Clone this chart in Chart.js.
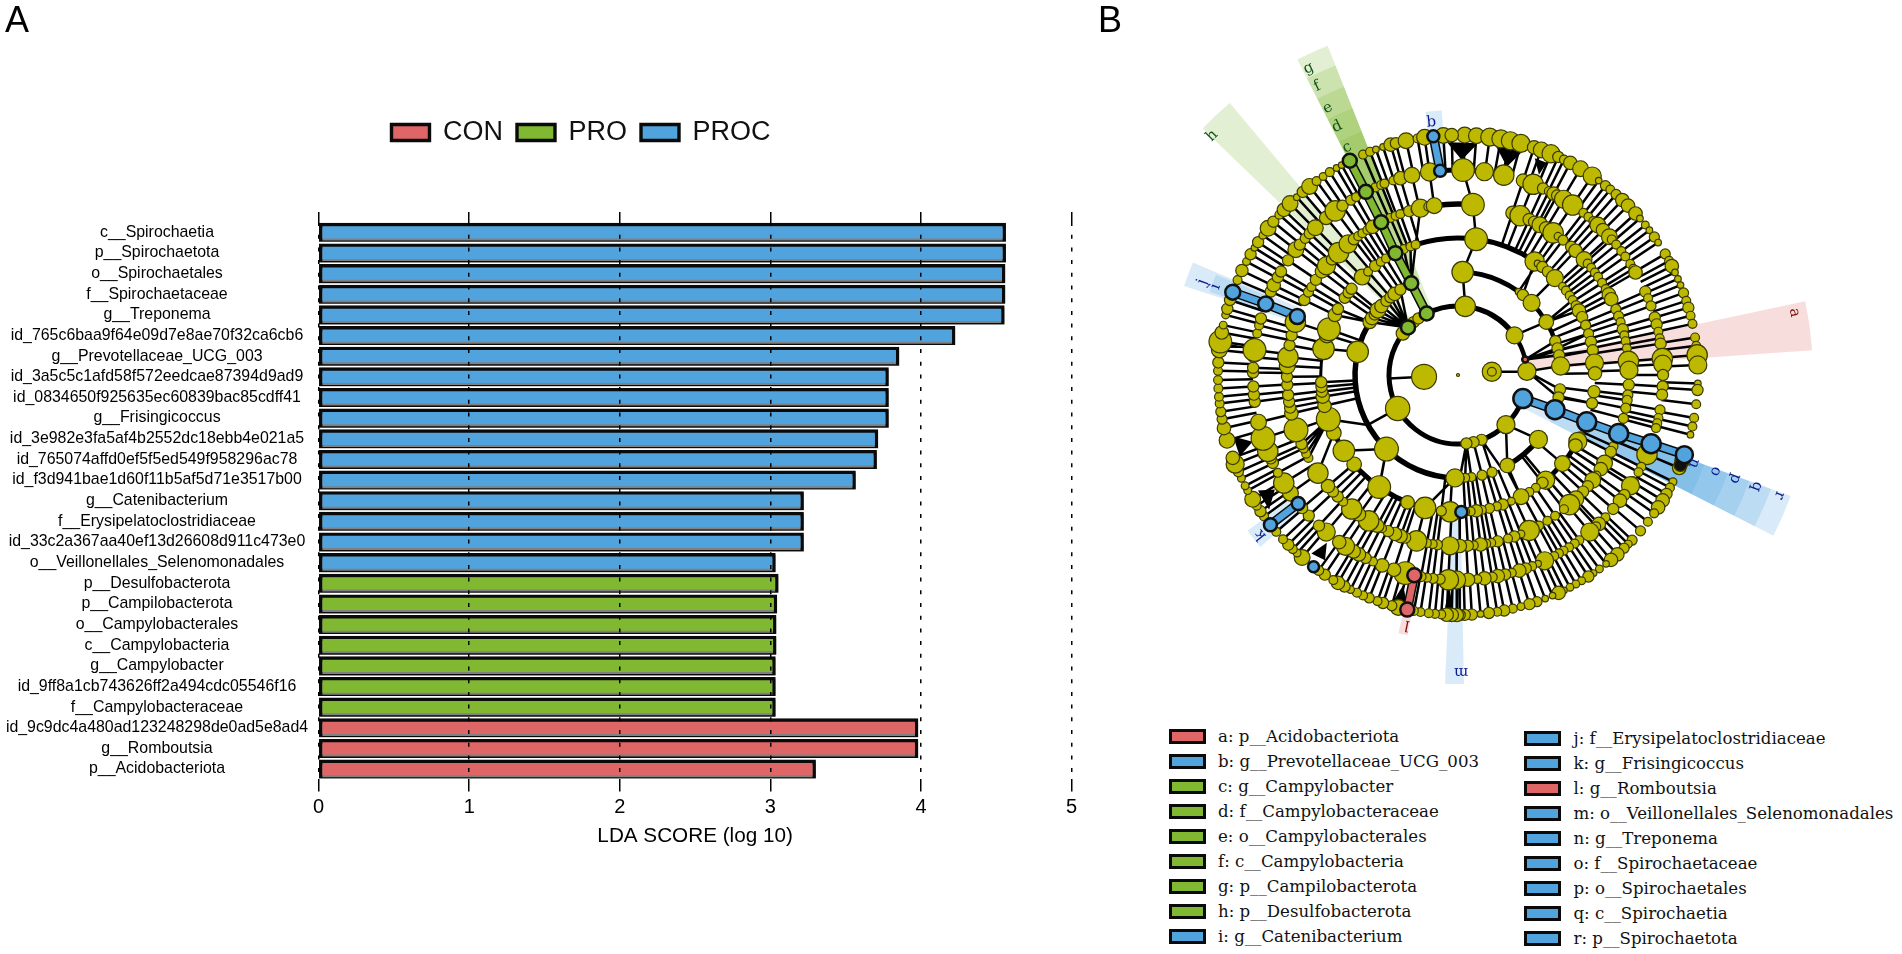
<!DOCTYPE html>
<html>
<head>
<meta charset="utf-8">
<script src="https://cdn.jsdelivr.net/npm/chart.js@4/dist/chart.umd.min.js"></script>
<style>
  body { margin: 0; background: #fff; width: 1902px; height: 954px; overflow: hidden; position: relative; }
  canvas { position: absolute; }
  .panel { position: absolute; font: 36px "Liberation Sans", sans-serif; line-height: 40px; color: #000; }
  .key { position: absolute; font: 16.6px "DejaVu Serif", serif; line-height: 20px; color: #111; white-space: nowrap; }
  .key i { position: absolute; width: 31px; height: 9px; border: 3.5px solid #0a0a0a; }
</style>
</head>
<body>
<canvas id="bars" width="1162" height="954" style="left:0;top:0"></canvas>
<canvas id="clade" width="802" height="720" style="left:1100px;top:0"></canvas>
<div class="panel" style="left:5px;top:0">A</div>
<div class="panel" style="left:1098px;top:0">B</div>
<script>
const RED = '#df6666'
const GREEN = '#80b831'
const BLUE = '#51a3de'
const OLIVE = '#bdb900'

// panel A
const procTaxa = ['c__Spirochaetia', 'p__Spirochaetota', 'o__Spirochaetales', 'f__Spirochaetaceae', 'g__Treponema',
  'id_765c6baa9f64e09d7e8ae70f32ca6cb6', 'g__Prevotellaceae_UCG_003', 'id_3a5c5c1afd58f572eedcae87394d9ad9',
  'id_0834650f925635ec60839bac85cdff41', 'g__Frisingicoccus', 'id_3e982e3fa5af4b2552dc18ebb4e021a5',
  'id_765074affd0ef5f5ed549f958296ac78', 'id_f3d941bae1d60f11b5af5d71e3517b00', 'g__Catenibacterium',
  'f__Erysipelatoclostridiaceae', 'id_33c2a367aa40ef13d26608d911c473e0', 'o__Veillonellales_Selenomonadales']
const procScores = [4.562, 4.562, 4.558, 4.558, 4.553, 4.226, 3.854, 3.784, 3.784, 3.784, 3.714, 3.705, 3.565, 3.22, 3.22, 3.22, 3.033]
const proTaxa = ['p__Desulfobacterota', 'p__Campilobacterota', 'o__Campylobacterales', 'c__Campylobacteria',
  'g__Campylobacter', 'id_9ff8a1cb743626ff2a494cdc05546f16', 'f__Campylobacteraceae']
const proScores = [3.052, 3.043, 3.038, 3.038, 3.033, 3.033, 3.033]
const conTaxa = ['id_9c9dc4a480ad123248298de0ad5e8ad4', 'g__Romboutsia', 'p__Acidobacteriota']
const conScores = [3.98, 3.98, 3.30]

// panel B, all angles in degrees clockwise from north, ring 0 is the centre
const ringRadii = [0, 34, 69, 103, 137, 171, 205, 240]
// [angle, node radius, parent angle (-1 = no link, missing = straight in)]
const ring1 = [[267, 10], [84.5, 7.5], [84.5, 3]]
const ring2 = [[6, 8], [55, 6.5], [87, 7], [136, 7], [160, 4], [167, 4], [173, 4], [241, 9.7], [307, 5], [320, 4], [325, 4]]
const ring3 = [[2.6, 8.5], [36, 2], [39, 4], [45.6, 6.5], [59, 5.5], [70.8, 4], [75, 4], [79, 4], [85, 7], [98, 4], [102.6, 4],
  [128.7, 7], [151.4, 5.5], [160.7, 3.5], [166.5, 3.5], [172.5, 3], [176, 3], [179, 3], [181.7, 7], [224, 9.5], [283, 8.5],
  [301, 5], [303.5, 5], [306, 4], [309, 6], [312, 5], [316, 4], [319, 4], [322, 5], [326, 4]]
const ring4 = [[7.6, 9, 2.6], [34, 7.5, 39], [35.5, 2, 36], [38, 4, -1], [41, 4, -1], [45, 6.5], [49.7, 2.5, -1], [52, 3, -1], [54.6, 3, -1], [56.8, 3, 59], [59.6, 3.5], [62, 5, 59], [65, 4], [68.7, 3.5],
  [72.4, 3.5], [76, 4], [79.6, 4], [85, 7], [89.3, 5], [97, 4.5], [101.9, 4], [116.6, 3, -1], [119, 7, -1], [121, 5, -1], [130.3, 6], [140.2, 7], [141.9, 4], [145.4, 3, -1], [148.6, 3, -1],
  [152.6, 6], [157.1, 2.5], [160.9, 4], [163.5, 3], [166.7, 3.5], [170, 3], [172.3, 4.5], [174.7, 3], [177, 3], [183.3, 8], [187, 3.5], [193.9, 8.5, 181.7], [201.6, 5, -1], [215.1, 9, 224],
  [229.3, 5.5, -1], [236.4, 8.5, 224], [245, 5.5, -1], [251.2, 9.5, 241], [257, 5], [260.9, 5], [263, 4], [265, 4], [267, 4], [281, 8.5, 283], [287, 6], [289.5, 9], [296, 5, 301], [298.8, 4, 301], [304.3, 4], [307, 4], [309, 4],
  [315.6, 6], [319, 3], [322.8, 4], [325.7, 3], [328.3, 3], [336.7, 3, 333], [339.7, 3, 333], [342, 3, 333]]
const ring5 = [[5, 9, 7.6], [18.6, 5], [21.3, 8], [24.6, 4.5], [26.4, 4], [28.6, 6], [31, 5], [33.8, 8], [35.8, 2.5], [37.9, 3.5], [41.4, 4], [43.4, 5], [47.5, 6], [49.3, 3], [51.2, 3], [53.2, 3], [55, 3],
  [57.4, 3], [59.8, 3], [61.9, 5], [63.7, 5], [67.4, 3.5], [69.9, 3.5], [72, 3], [74.5, 4], [76.6, 3], [78.6, 3], [81, 3], [85.4, 8], [88.4, 7], [93.3, 4], [96.7, 3.5], [98.5, 3.5], [101.2, 3.5], [104.7, 3.5],
  [114.6, 3], [116.7, 4], [121, 6], [123.4, 5], [126, 3], [128, 6], [130.6, 4], [133, 4], [136.4, 6], [139.3, 8], [141.7, 3], [145.4, 3], [148.5, 3], [151.7, 3], [155.4, 8], [158.4, 2.5], [160.8, 4], [163, 3],
  [166.6, 4], [168.8, 3], [170.5, 3], [172.4, 5], [174.7, 3], [176.7, 4], [179.4, 5], [182.7, 7], [186.9, 3.5], [188.5, 3], [190.5, 3], [194, 8], [198, 4], [199.6, 5], [201.6, 5], [204.1, 4], [206.4, 3], [208.2, 5],
  [211.5, 8], [215.4, 5], [218.4, 8], [222.2, 3], [224.7, 4], [227, 4], [229.5, 5], [235, 8, 245], [241, 3, 251], [242.6, 3, 251], [244.5, 3, 251], [246.2, 4, 251], [251.3, 9.5], [257, 5], [259, 4], [261, 4], [263.3, 4], [266.7, 4], [269.4, 4],
  [273, 6], [276, 8], [280, 4], [283.4, 4], [288, 8], [296, 4], [299, 3.5], [301, 3], [303.8, 4], [307.3, 5], [309.7, 7], [312.5, 4], [315.7, 8], [320, 7], [322.5, 4], [324.3, 3], [326, 3], [328, 3], [330, 5],
  [336.7, 3], [338.6, 3], [340.3, 3], [343.4, 4], [345.6, 3, -1], [347.3, 7, 342], [350, 3, -1], [352, 6, -1]]
const ring6 = [[1.4, 9, 5], [7.4, 7, -1], [12.9, 8, -1], [18.5, 5], [21.5, 8], [24.5, 4], [26.3, 3], [27.8, 5], [28.9, 4], [31, 7], [34, 8], [37.7, 3], [39.5, 3], [41.3, 3], [43, 6], [45, 5], [47.6, 6], [48.6, 3], [50.5, 3], [52.8, 3], [54.7, 3],
  [57.2, 3], [58.8, 3], [60, 5], [66, 4], [68, 3], [70.3, 3.5], [73.7, 4], [75.7, 4], [77.8, 3], [79.7, 3], [81.2, 4], [85.4, 8], [87, 7], [90, 4], [93.2, 4], [95.5, 4], [99.8, 3.5], [102.1, 3], [103.6, 3], [105, 3],
  [112.8, 8], [116.6, 3], [118.3, 3], [121.5, 4], [122.7, 7], [125.8, 4], [127.8, 5], [130.8, 4], [134, 3], [136.6, 5], [137.6, 3], [140, 7], [143.7, 3], [145.3, 3], [147.2, 3], [149, 3], [150.5, 3], [152, 3], [155, 7],
  [157, 2], [158.8, 3], [160.7, 4], [162.6, 5], [164.8, 3], [166.7, 4], [168.8, 5], [170.4, 3.5], [172.6, 5], [174.6, 3], [177.2, 5], [180.4, 7], [182.7, 8], [185, 3.5], [187, 3.5], [188.7, 3], [190.4, 3.5], [194.9, 9], [198.2, 5], [201.7, 5],
  [204.5, 3], [206.8, 4], [208.9, 5], [210.6, 5], [213.3, 7], [215.4, 5], [220, 7], [222.7, 4], [226.7, 4], [229.5, 4], [234.8, 6], [238.2, 8], [241.5, 3], [244.6, 4], [246, 4], [248.1, 8], [252, 9.5], [256.7, 6], [262.5, 4], [264.5, 4], [266.8, 4], [270.7, 4],
  [272, 4], [275, 4], [277, 9], [281.7, 3], [284, 3], [286, 4], [294, 4], [296, 5], [298.5, 4], [300.3, 4], [304, 4], [307.7, 6], [309.5, 4], [311.8, 3.5], [313.7, 4], [315.9, 6], [320, 5], [323.2, 8], [325.7, 4], [328.5, 3.5], [330.2, 3],
  [336.2, 3], [338, 3], [339, 3], [341.6, 3], [343.7, 5], [347, 6], [352, 7]]
const ring7 = [[1.6, 6], [4.4, 6], [7.6, 7], [10.3, 7], [12.6, 7], [15.2, 7], [18.5, 5], [20.3, 6], [22.8, 7], [24.7, 4], [26.2, 3], [27.9, 5], [30.7, 6], [34, 7], [35.9, 2], [37.9, 3.5], [39.4, 3], [41.2, 3.5], [43.2, 5], [45.1, 5], [47.7, 5],
  [49.3, 2], [51.3, 2.5], [52.9, 2], [54.9, 3.5], [56.5, 2], [59.7, 3.5], [61.6, 3], [63, 5], [64.7, 2], [66.4, 2], [68, 2], [70, 3.5], [72, 3], [73.7, 4], [75.7, 3], [77.7, 3], [81, 3], [83, 3], [85.2, 8], [87.6, 7],
  [92, 2], [93.6, 4], [97, 3], [100.3, 3], [102.4, 3], [104.4, 2], [112.8, 5], [116.4, 2.5], [118, 3], [119.7, 4], [121.5, 5], [123.5, 5], [125.2, 3], [127.7, 3], [130.5, 3.5], [133.5, 3.5], [134.8, 2.5], [136.2, 3.5], [138.4, 5], [140.4, 5],
  [141.9, 2], [143.9, 2.5], [145.6, 2], [147.1, 4], [149, 2.5], [150.6, 2.5], [152.2, 2.5], [153.8, 2], [155.2, 5], [156.8, 2], [158.7, 2], [160.8, 3.5], [162.7, 4], [164.8, 2.5], [166.8, 3], [168.9, 4], [170.6, 3], [172.6, 4], [174.6, 2], [176.7, 4], [178.4, 4], [179.6, 4],
  [180.3, 5], [181.5, 5], [182.7, 5], [184, 3], [185.5, 3], [187, 3], [189, 3], [190.6, 3], [194.4, 6], [196, 3.5], [198.2, 4], [199.6, 3], [201.7, 3.5], [203.3, 3], [204.9, 3], [206.6, 2.5], [208.2, 4], [210, 5], [211.3, 3], [213.7, 4], [215.5, 3.5],
  [220.5, 6], [222.1, 2.5], [223.5, 3], [225, 4], [226.8, 3], [229.2, 3], [233.9, 3], [235.4, 4], [237, 3], [238.8, 6], [241.2, 2.5], [242.5, 2.5], [244.5, 2.5], [246.2, 3.5], [248.2, 7], [249.8, 5], [254.2, 6], [257.2, 5], [259.4, 3.5], [261.2, 3.5], [263.2, 3], [264.8, 3], [266.8, 3], [268.8, 3],
  [271, 3], [273, 4], [276, 6], [278, 9], [280.2, 5], [282, 2.5], [284.5, 2.5], [286, 4], [288.2, 4], [293.3, 3], [295.8, 4.5], [298.2, 2.5], [300.2, 4], [302, 2], [303.6, 4], [305.6, 2.5], [307.7, 6], [309.7, 4], [311.9, 3], [313.5, 5], [315.6, 6], [317.8, 2], [319.7, 4], [321.8, 6], [323.9, 3], [325.8, 2.5], [327.7, 3], [329.6, 2], [331, 2],
  [336.7, 3], [338.5, 3], [340, 2], [341.8, 2], [343.7, 5], [345, 4], [347.5, 6], [350.3, 3], [352, 6], [356.5, 6], [358.5, 5]]
const ringArrays = [[], ring1, ring2, ring3, ring4, ring5, ring6, ring7]

// thin links between the inner rings: [ring, angle, ring, angle]
const innerLinks = [[1, 267, 2, 267], [1, 84.5, 2, 87], [2, 6, 3, 2.6], [2, 55, 3, 59], [2, 87, 3, 85], [2, 110, 3, 109.7], [2, 136, 3, 128.7], [2, 136, 3, 151.4],
  [2, 241, 3, 241], [2, 160, 3, 160.7], [2, 160, 3, 155], [2, 167, 3, 166.5], [2, 173, 3, 172.5], [2, 173, 3, 176], [2, 173, 3, 179], [3, 151.4, 4, 152.6], [3, 224, 4, 215],
  [2, 313.6, 3, 301], [2, 313.6, 3, 303.5], [2, 313.6, 3, 306], [2, 313.6, 3, 309], [2, 313.6, 3, 312], [2, 313.6, 3, 316], [2, 313.6, 3, 319], [2, 313.6, 3, 322], [2, 313.6, 3, 326],
  [2, 87, 3, 98], [2, 87, 3, 102.6], [2, 77, 3, 70.8], [2, 77, 3, 75], [2, 77, 3, 79], [2, 77, 4, 79.6], [2, 77, 4, 76], [3, 75, 4, 72.4], [3, 102.6, 4, 101.9]]
// thick black arcs: [ring, from, to, width]
const arcs = [[2, 173, 313.6, 5], [2, 333, 366, 5], [2, 6, 55, 5.5], [2, 55, 77, 4.5], [2, 110, 136, 5], [2, 136, 160, 5],
  [3, 2.6, 45.6, 5], [3, 45.6, 72, 4.5], [3, 128.7, 151.4, 5.5], [3, 181.7, 300, 5.5],
  [4, 342, 394, 5], [4, 121, 141.9, 5], [4, 193.9, 245, 5], [4, 251, 290, 3], [5, 352, 365, 5.5], [6, 355, 373, 5]]
// black fans where many links meet one parent: [ring radius, angle] x 3
const fans = [[215, 1, 233, -2.7, 233, 5], [214, 13.2, 232, 9.4, 232, 16], [216, 22, 230, 19.5, 230, 22.7], [216, 252, 233, 254.7, 233, 249.5],
  [216, 238, 231, 240, 232, 234.5], [213, 218, 231, 219.4, 228, 215.7], [217, 194.6, 235, 196, 234, 192.7], [213, 182.3, 233, 183.2, 233, 181.2],
  [205, 277.5, 240, 277.8, 240, 276.5]]
// highlighted clades: node list [ring, angle, radius], then chains of nodes joined by a coloured band
const greenNodes = [[2, 313.6, 7], [2, 333, 7], [3, 333, 7], [4, 332.8, 7], [5, 333.3, 7], [6, 333.3, 7], [7, 333.2, 7]]
const blueNodes = [[2, 110, 9.5], [3, 109.7, 9.5], [4, 110, 9.5], [5, 110, 9.5], [6, 109.6, 9.5], [7, 109.4, 8.5], [4, 178.6, 6],
  [5, 290, 7.5], [6, 290.3, 7.5], [7, 290.2, 7.5], [6, 231.2, 6.5], [7, 231.4, 6.5], [7, 217, 5.5], [6, 355, 6], [7, 354.1, 6]]
const redNodes = [[2, 77, 3], [6, 192.3, 7], [7, 192.2, 7]]
const blackNodes = [[7, 110.8, 7.5], [7, 112, 6.5]]
const greenChains = [[[2, 333], [3, 333], [4, 332.8], [5, 333.3], [6, 333.3], [7, 333.2]]]
const blueChains = [[[2, 110], [3, 109.7], [4, 110], [5, 110], [6, 109.6], [7, 109.4]], [[5, 290], [6, 290.3], [7, 290.2]], [[6, 231.2], [7, 231.4]], [[6, 355], [7, 354.1]]]
const redChains = [[[6, 192.3], [7, 192.2]]]
// pale wedges: letter, colour, from, to, inner radius, outer radius, label angle, label radius
const wedges = [['a', 'con', 78, 86, 69, 355, 79.5, 342], ['b', 'proc', 353, 356.5, 205, 265, 354, 254],
  ['c', 'pro', 333, 338.4, 205, 262, 334, 253], ['d', 'pro', 333, 338.4, 171, 287, 334, 276], ['e', 'pro', 333, 338.4, 137, 310, 334, 297],
  ['f', 'pro', 333, 338.4, 103, 333, 334, 321], ['g', 'pro', 333, 338.4, 69, 354, 334, 341], ['h', 'pro', 314, 320, 69, 355, 314.2, 343],
  ['i', 'proc', 288.5, 292.5, 205, 262, 290, 258], ['j', 'proc', 288, 293, 171, 288, 290, 272], ['k', 'proc', 229, 233.5, 205, 262, 231, 254],
  ['l', 'con', 191, 193, 205, 265, 191.5, 255], ['m', 'proc', 178.9, 182.4, 137, 309, 179.4, 297],
  ['n', 'proc', 110, 117, 205, 262, 110.5, 252], ['o', 'proc', 110, 117, 171, 287, 110.5, 275], ['p', 'proc', 110, 117, 137, 310, 110.5, 296],
  ['q', 'proc', 110, 117, 103, 333, 110.5, 319], ['r', 'proc', 110, 117, 69, 354, 110.5, 343]]
const wedgeFill = { con: 'rgba(223,102,102,0.22)', pro: 'rgba(128,184,49,0.22)', proc: 'rgba(81,163,222,0.22)' }
const wedgeText = { con: '#7a0a0a', pro: '#12531a', proc: '#0a1a8c' }
// legend of panel B
const keyLeft = [['a: p__Acidobacteriota', RED], ['b: g__Prevotellaceae_UCG_003', BLUE], ['c: g__Campylobacter', GREEN], ['d: f__Campylobacteraceae', GREEN],
  ['e: o__Campylobacterales', GREEN], ['f: c__Campylobacteria', GREEN], ['g: p__Campilobacterota', GREEN], ['h: p__Desulfobacterota', GREEN], ['i: g__Catenibacterium', BLUE]]
const keyRight = [['j: f__Erysipelatoclostridiaceae', BLUE], ['k: g__Frisingicoccus', BLUE], ['l: g__Romboutsia', RED], ['m: o__Veillonellales_Selenomonadales', BLUE],
  ['n: g__Treponema', BLUE], ['o: f__Spirochaetaceae', BLUE], ['p: o__Spirochaetales', BLUE], ['q: c__Spirochaetia', BLUE], ['r: p__Spirochaetota', BLUE]]

const toBar = (taxa, scores) => taxa.map((t, i) => ({ x: scores[i], y: t }))
const barStyle = { borderColor: '#0a0a0a', borderWidth: 3.4, borderSkipped: false, barThickness: 18.4, grouped: false }

// the grey line under every bar in the original
const barShadow = {
  id: 'barShadow',
  beforeDatasetsDraw(chart) {
    chart.ctx.save()
    chart.ctx.shadowColor = '#808080'
    chart.ctx.shadowOffsetY = 2
  },
  afterDatasetsDraw(chart) {
    chart.ctx.restore()
  }
}
// the legend in the original is not centred on the plot or on the canvas
const legendShift = {
  id: 'legendShift',
  afterLayout(chart) {
    chart.legend.left = 90.4
  }
}

const tickFont = { family: '"Liberation Sans"', size: 20 }
new Chart(document.getElementById('bars'), {
  type: 'bar',
  data: {
    labels: [...procTaxa, ...proTaxa, ...conTaxa],
    datasets: [
      { label: 'CON', data: toBar(conTaxa, conScores), backgroundColor: RED, ...barStyle },
      { label: 'PRO', data: toBar(proTaxa, proScores), backgroundColor: GREEN, ...barStyle },
      { label: 'PROC', data: toBar(procTaxa, procScores), backgroundColor: BLUE, ...barStyle }
    ]
  },
  plugins: [barShadow, legendShift],
  options: {
    indexAxis: 'y',
    responsive: false,
    animation: false,
    layout: { padding: { top: 105, right: 90.4, left: 0, bottom: 0 } },
    plugins: {
      tooltip: { enabled: false },
      legend: {
        position: 'top',
        labels: { font: { family: '"Liberation Sans"', size: 27 }, color: '#111', boxWidth: 38, boxHeight: 16, padding: 14 }
      }
    },
    scales: {
      y: {
        type: 'category',
        afterFit: s => { s.width = 318.6 },
        grid: { display: false },
        border: { display: false },
        ticks: { autoSkip: false, crossAlign: 'center', padding: 2.5, color: '#000', font: { family: '"Liberation Sans"', size: 15.9 } }
      },
      x: {
        min: 0, max: 5,
        afterFit: s => { s.height = 174.6 },
        grid: { color: '#000', lineWidth: 1.5, z: 1, tickLength: 12, tickBorderDash: [] },
        border: { display: false, dash: [4, 8.7] },
        ticks: { stepSize: 1, color: '#000', padding: 4, font: tickFont },
        title: { display: true, text: 'LDA SCORE (log 10)', color: '#000', font: { family: '"Liberation Sans"', size: 20.7 }, padding: { top: 0, bottom: 105 } }
      },
      top: {
        position: 'top', min: 0, max: 5,
        afterFit: s => { s.height = 66 },
        grid: { color: '#000', lineWidth: 1.5, drawOnChartArea: false, tickLength: 10, tickBorderDash: [] },
        border: { display: false },
        ticks: { stepSize: 1, display: false }
      }
    }
  }
})

const rad = d => d * Math.PI / 180
const polar = (r, a) => ({ x: r * Math.sin(rad(a)), y: r * Math.cos(rad(a)) })
const gap = { x: null, y: null }

function spokePoints() {
  const pts = []
  ringArrays.forEach((nodes, k) => {
    if (k < 4) return
    nodes.forEach(n => {
      const parent = n[2] === undefined ? n[0] : n[2]
      if (parent < 0) return
      pts.push(polar(ringRadii[k - 1], parent), polar(ringRadii[k], n[0]), gap)
    })
  })
  innerLinks.forEach(l => pts.push(polar(ringRadii[l[0]], l[1]), polar(ringRadii[l[2]], l[3]), gap))
  return pts
}
const chainPoints = chains => chains.flatMap(c => [...c.map(n => polar(ringRadii[n[0]], n[1])), gap])
const nodePoints = list => list.map(n => ({ ...polar(ringRadii[n[0]], n[1]), r: n[2] }))
// sizes were read from the fill, the drawn circle sits a little wider
const ringPoints = k => ringArrays[k].map(n => ({ ...polar(ringRadii[k], n[0]), r: n[1] * 1.15 + 1 }))

const cladeShapes = {
  id: 'cladeShapes',
  beforeDatasetsDraw(chart) {
    const { ctx, scales: { x, y } } = chart
    const cx = x.getPixelForValue(0), cy = y.getPixelForValue(0)
    const px = r => x.getPixelForValue(r) - cx
    const compass = a => rad(a - 90)
    ctx.save()
    wedges.forEach(w => {
      ctx.beginPath()
      ctx.arc(cx, cy, px(w[5]), compass(w[2]), compass(w[3]))
      ctx.arc(cx, cy, px(w[4]), compass(w[3]), compass(w[2]), true)
      ctx.closePath()
      ctx.fillStyle = wedgeFill[w[1]]
      ctx.fill()
    })
    ctx.strokeStyle = '#000'
    arcs.forEach(a => {
      ctx.beginPath()
      ctx.lineWidth = a[3]
      ctx.arc(cx, cy, px(ringRadii[a[0]]), compass(a[1]), compass(a[2]))
      ctx.stroke()
    })
    ctx.fillStyle = '#000'
    fans.forEach(f => {
      ctx.beginPath()
      for (let i = 0; i < 6; i += 2) {
        const p = polar(f[i], f[i + 1])
        ctx.lineTo(x.getPixelForValue(p.x), y.getPixelForValue(p.y))
      }
      ctx.fill()
    })
    ctx.restore()
  },
  afterDatasetsDraw(chart) {
    const { ctx, scales: { x, y } } = chart
    ctx.save()
    ctx.font = '15px "DejaVu Serif"'
    ctx.textAlign = 'center'
    ctx.textBaseline = 'middle'
    wedges.forEach(w => {
      const p = polar(w[7], w[6])
      ctx.save()
      ctx.translate(x.getPixelForValue(p.x), y.getPixelForValue(p.y))
      ctx.rotate(rad(w[6]))
      ctx.fillStyle = wedgeText[w[1]]
      ctx.fillText(w[0], 0, 0)
      ctx.restore()
    })
    ctx.restore()
  }
}

const nodeStyle = { type: 'bubble', borderColor: '#3b3a00', borderWidth: 1.2 }
const band = (chains, color, width) => ({ type: 'scatter', showLine: true, data: chainPoints(chains), borderColor: color, borderWidth: width, pointRadius: 0, spanGaps: false })
const bubbles = (data, color) => ({ ...nodeStyle, data, backgroundColor: color })

new Chart(document.getElementById('clade'), {
  type: 'scatter',
  data: {
    datasets: [
      // first in the list is drawn on top
      { ...bubbles(nodePoints(redNodes), RED), borderColor: '#101010', borderWidth: 2.5 },
      { ...bubbles(nodePoints(greenNodes), GREEN), borderColor: '#101010', borderWidth: 2.5 },
      { ...bubbles(nodePoints(blueNodes), BLUE), borderColor: '#101010', borderWidth: 2.5 },
      bubbles(nodePoints(blackNodes), '#111'),
      bubbles([{ x: 0, y: 0, r: 1.5 }], OLIVE),
      bubbles(ringPoints(7), OLIVE), bubbles(ringPoints(6), OLIVE), bubbles(ringPoints(5), OLIVE), bubbles(ringPoints(4), OLIVE),
      bubbles(ringPoints(3), OLIVE), bubbles(ringPoints(2), OLIVE), bubbles(ringPoints(1), OLIVE),
      band(redChains, RED, 6.5), band(greenChains, GREEN, 6.5), band(blueChains, BLUE, 6.5),
      band(redChains, '#0a0a0a', 9.5), band(greenChains, '#0a0a0a', 9.5), band(blueChains, '#0a0a0a', 9.5),
      { type: 'scatter', showLine: true, data: spokePoints(), borderColor: '#000', borderWidth: 2.5, pointRadius: 0, spanGaps: false }
    ]
  },
  plugins: [cladeShapes],
  options: {
    responsive: false,
    animation: false,
    layout: { autoPadding: false, padding: 0 },
    plugins: { legend: { display: false }, tooltip: { enabled: false } },
    scales: {
      x: { type: 'linear', display: false, min: -358, max: 444 },
      y: { type: 'linear', display: false, min: -345, max: 375 }
    }
  }
})

function addKey(rows, swatchX, textX, topY) {
  rows.forEach((row, i) => {
    const el = document.createElement('div')
    el.className = 'key'
    el.style.left = textX + 'px'
    el.style.top = (topY + i * 25 - 10) + 'px'
    el.textContent = row[0]
    const box = document.createElement('i')
    box.style.left = (swatchX - textX) + 'px'
    box.style.top = '2px'
    box.style.background = row[1]
    el.appendChild(box)
    document.body.appendChild(el)
  })
}
addKey(keyLeft, 1169, 1218, 736.7)
addKey(keyRight, 1524, 1573.5, 738.7)
</script>
</body>
</html>
